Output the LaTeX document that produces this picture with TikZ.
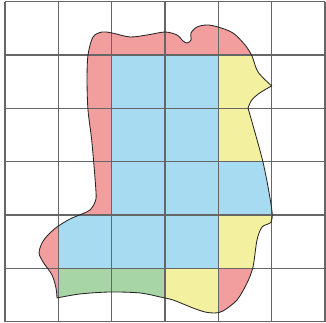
\documentclass[tikz,border=0pt]{standalone}
\definecolor{cellred}{RGB}{242,158,158}
\definecolor{cellblue}{RGB}{166,219,242}
\definecolor{cellyellow}{RGB}{243,240,160}
\definecolor{cellgreen}{RGB}{168,213,166}
\usepackage{tikz}

% outline of the region, traced in grid units
\newcommand{\boundary}{%
  plot[smooth] coordinates {(0.975,0.444) (0.956,0.631) (0.881,0.875)
    (0.713,1.119) (0.638,1.288) (0.694,1.475) (0.806,1.625) (0.975,1.775)
    (1.219,1.925) (1.444,2.019) (1.594,2.094) (1.688,2.244) (1.706,2.431)
    (1.631,3.35) (1.556,3.969) (1.538,4.531) (1.556,5.0) (1.65,5.338)
    (1.819,5.431) (2.006,5.413) (2.344,5.338) (2.663,5.375) (3.0,5.431)
    (3.225,5.375) (3.338,5.263) (3.413,5.225) (3.488,5.281) (3.488,5.413)
    (3.6,5.525) (3.788,5.563) (3.994,5.525) (4.275,5.413) (4.5,5.188)
    (4.631,4.981) (4.744,4.681) (5.0,4.42)}
  -- plot[smooth] coordinates {(5.0,4.42) (4.78,4.29) (4.63,4.16) (4.556,4.006)}
  -- plot[smooth] coordinates {(4.556,4.006) (4.84,2.98) (5.0,2.12)
    (4.99,1.87) (4.82,1.775) (4.725,1.531) (4.65,1.025) (4.538,0.725)
    (4.35,0.406) (4.088,0.2) (3.938,0.163) (3.75,0.181) (3.525,0.256)
    (3.15,0.406) (2.906,0.463) (2.531,0.538) (1.969,0.556) (1.406,0.519)
    (0.975,0.444)}
  -- cycle}

\begin{document}
\begin{tikzpicture}[
    gridline/.style={black!60, line width=0.6pt},
    outline/.style={black!85, line width=0.45pt}]
    \useasboundingbox (-0.094,-0.025) rectangle (6.019,6.031);

    % Cell colours, clipped to the region
    \begin{scope}
      \clip \boundary;
      \foreach \x/\y in {1/5,2/5,3/5,4/5,1/4,1/3,1/2,0/1,0/0,4/0}
        \fill[cellred] (\x,\y) rectangle ++(1,1);
      \foreach \x/\y in {2/4,3/4,2/3,3/3,2/2,3/2,4/2,1/1,2/1,3/1}
        \fill[cellblue] (\x,\y) rectangle ++(1,1);
      \foreach \x/\y in {4/4,4/3,4/1,3/0}
        \fill[cellyellow] (\x,\y) rectangle ++(1,1);
      \foreach \x/\y in {1/0,2/0}
        \fill[cellgreen] (\x,\y) rectangle ++(1,1);
    \end{scope}

    % Grid
    \draw[gridline] (0,0) grid (6,6);

    % Region outline
    \draw[outline] \boundary;
\end{tikzpicture}
\end{document}
